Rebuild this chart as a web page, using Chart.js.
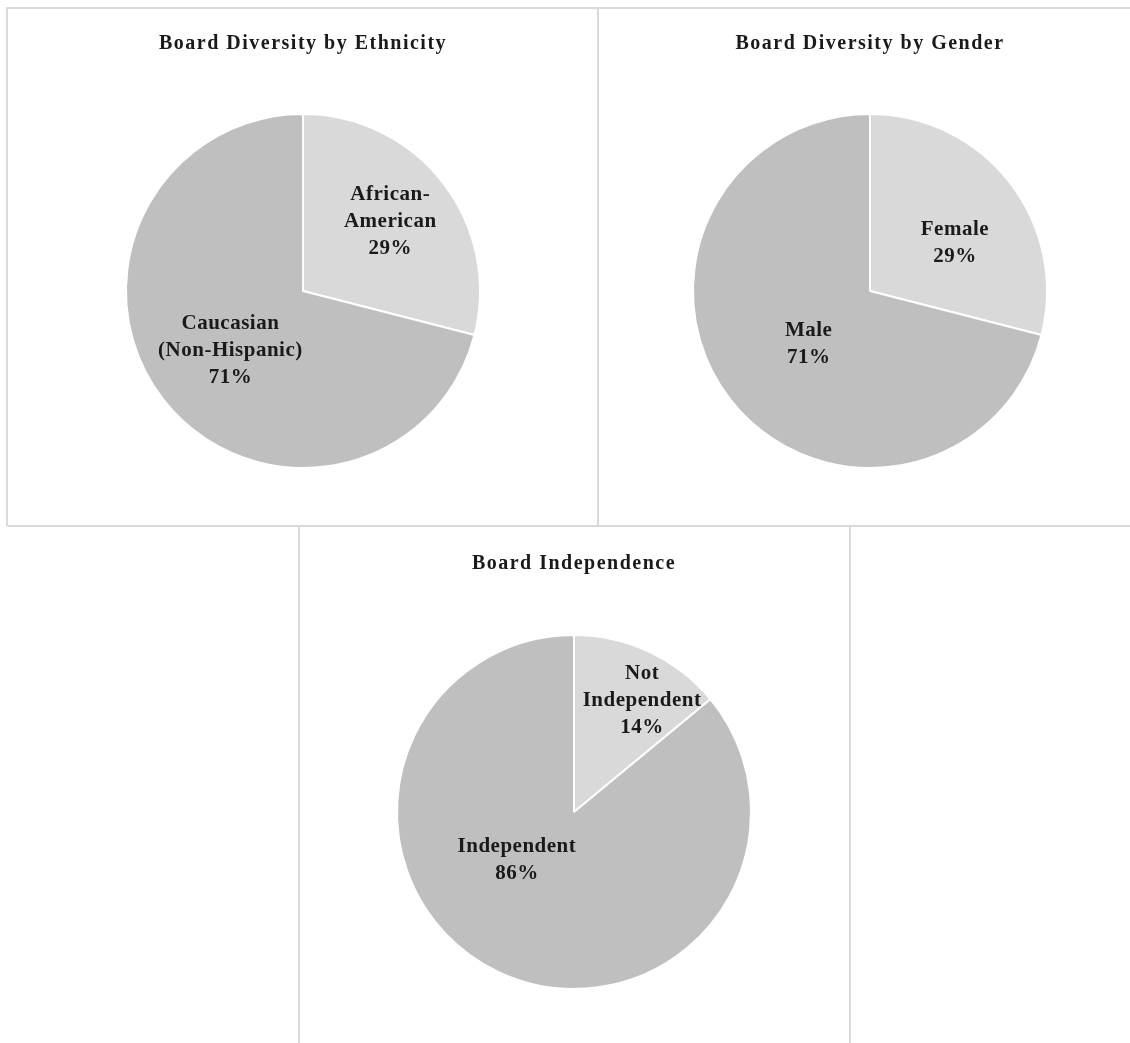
<!DOCTYPE html>
<html>
<head>
<meta charset="utf-8">
<script src="https://cdn.jsdelivr.net/npm/chart.js@4.4.0/dist/chart.umd.min.js"></script>
<style>
  body { margin: 0; background: #fff; }
  #wrap { position: relative; width: 1130px; height: 1043px; overflow: hidden; }
  .ln { position: absolute; background: #d9d9d9; }
  canvas { position: absolute; }
</style>
</head>
<body>
<div id="wrap">
  <div class="ln" style="left:7px;top:7px;width:1123px;height:2px"></div>
  <div class="ln" style="left:7px;top:525px;width:1123px;height:2px"></div>
  <div class="ln" style="left:6px;top:7px;width:2px;height:519px"></div>
  <div class="ln" style="left:597px;top:7px;width:2px;height:519px"></div>
  <div class="ln" style="left:298px;top:526px;width:2px;height:517px"></div>
  <div class="ln" style="left:849px;top:526px;width:2px;height:517px"></div>
  <canvas id="c1" width="590" height="518" style="left:8px;top:8px"></canvas>
  <canvas id="c2" width="531" height="518" style="left:599px;top:8px"></canvas>
  <canvas id="c3" width="549" height="516" style="left:300px;top:527px"></canvas>
</div>
<script>
// data
var ethnicityLabels = [['African-', 'American'], ['Caucasian', '(Non-Hispanic)']];
var ethnicityValues = [29, 71];

var genderLabels = [['Female'], ['Male']];
var genderValues = [29, 71];

var independenceLabels = [['Not', 'Independent'], ['Independent']];
var independenceValues = [14, 86];

var sliceColors = ['#d9d9d9', '#bfbfbf'];

// label placement: [angle shift from slice middle (deg), distance as fraction of radius]
var labelPlacement = {
  c1: [[-0.7, 0.63], [-1.5, 0.53]],
  c2: [[8.5, 0.55], [-3.3, 0.46]],
  c3: [[6.1, 0.74], [25, 0.42]]
};

var sliceLabels = {
  id: 'sliceLabels',
  afterDatasetsDraw: function(chart) {
    var ctx = chart.ctx;
    var meta = chart.getDatasetMeta(0);
    var place = labelPlacement[chart.canvas.id];
    var values = chart.data.datasets[0].data;
    ctx.save();
    ctx.font = 'bold 21px "Liberation Serif", "Times New Roman", serif';
    ctx.letterSpacing = '0.5px';
    ctx.fillStyle = '#1a1a1a';
    ctx.textAlign = 'center';
    ctx.textBaseline = 'middle';
    meta.data.forEach(function(arc, i) {
      var p = arc.getProps(['x', 'y', 'startAngle', 'endAngle', 'outerRadius'], true);
      var a = (p.startAngle + p.endAngle) / 2 + place[i][0] * Math.PI / 180;
      var r = p.outerRadius * place[i][1];
      var cx = p.x + Math.cos(a) * r;
      var cy = p.y + Math.sin(a) * r;
      var lines = chart.data.labels[i].concat([values[i] + '%']);
      var lh = 27;
      var top = cy - (lines.length - 1) * lh / 2;
      lines.forEach(function(t, k) {
        ctx.fillText(t, cx, top + k * lh);
      });
    });
    ctx.restore();
  }
};

var titleSpacing = {
  id: 'titleSpacing',
  beforeDraw: function(chart) {
    chart.ctx.letterSpacing = '1.5px';
  }
};

function makePie(id, labels, values, title, pad, titlePad) {
  return new Chart(document.getElementById(id).getContext('2d'), {
    type: 'pie',
    data: {
      labels: labels,
      datasets: [{
        data: values,
        backgroundColor: sliceColors,
        borderColor: '#ffffff',
        borderWidth: 2
      }]
    },
    options: {
      responsive: false,
      animation: false,
      layout: { padding: pad },
      plugins: {
        legend: { display: false },
        tooltip: { enabled: false },
        title: {
          display: true,
          text: title,
          color: '#1a1a1a',
          font: { family: '"Liberation Serif", "Times New Roman", serif', size: 20, weight: 'bold', lineHeight: 1.2 },
          padding: titlePad
        }
      }
    },
    plugins: [titleSpacing, sliceLabels]
  });
}

makePie('c1', ethnicityLabels, ethnicityValues, 'Board Diversity by Ethnicity',
  { left: 117, right: 117, top: 0, bottom: 57 }, { top: 24, bottom: 57 });
makePie('c2', genderLabels, genderValues, 'Board Diversity by Gender',
  { left: 93, right: 82, top: 0, bottom: 57 }, { top: 24, bottom: 57 });
makePie('c3', independenceLabels, independenceValues, 'Board Independence',
  { left: 96, right: 97, top: 0, bottom: 53 }, { top: 25, bottom: 58 });
</script>
</body>
</html>
